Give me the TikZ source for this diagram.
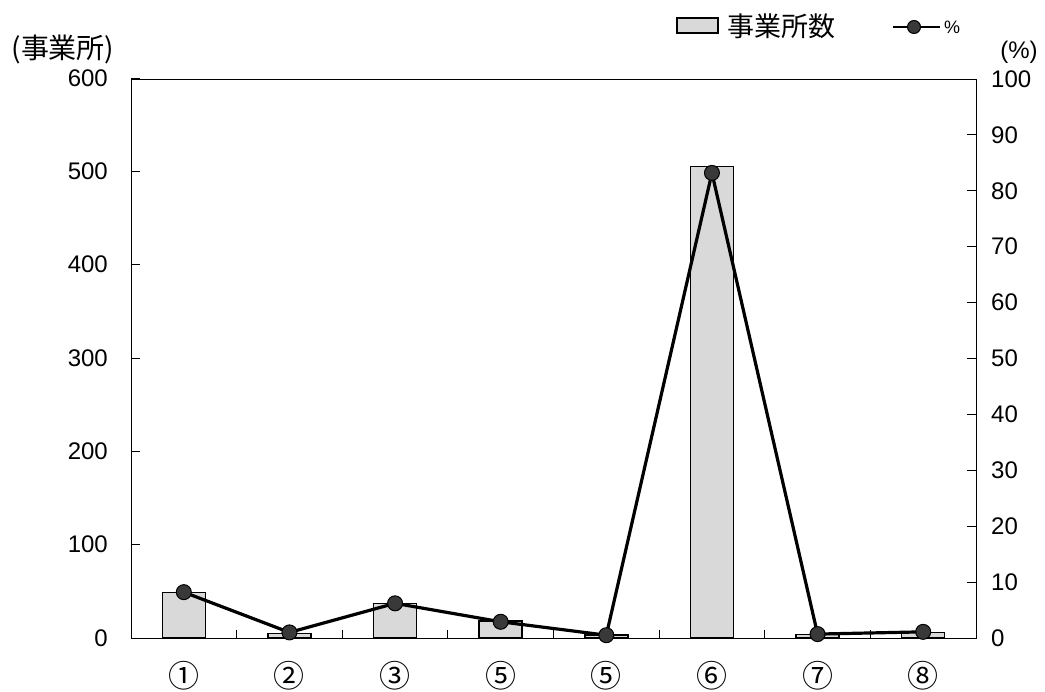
\documentclass[tikz,border=0pt]{standalone}
\usepackage{fontspec}
\setmainfont{Liberation Sans}
\newfontfamily\jpfont{Noto Sans CJK JP}
\usepackage{tikz}

\begin{document}
\begin{tikzpicture}[x=1pt,y=1pt,
  bar/.style={draw=black,line width=1.5pt,fill=gray!30},
  dot/.style={circle,draw=black,line width=1pt,fill=gray!45!black,inner sep=0pt,minimum size=15pt},
  num/.style={font=\fontsize{24}{24}\selectfont,inner sep=0pt},
  jp/.style={font=\jpfont\fontsize{28}{28}\selectfont,inner sep=0pt},
  cat/.style={font=\jpfont\fontsize{31}{31}\selectfont,inner sep=0pt}]
\useasboundingbox (0,0) rectangle (1045,-692);
% axes
\draw [black,line width=0.9pt] (131,-79) rectangle (976,-638);
\foreach \v in {0,100,...,600} {
  \draw [black,line width=0.9pt] (131,{-638+\v*0.9333}) -- ++(9,0);
  \node [num,anchor=east] at (108,{-638+\v*0.9333}) {\v};
}
\foreach \v in {0,10,...,100} {
  \draw [black,line width=0.9pt] (976,{-638+\v*5.59}) -- ++(-9,0);
  \node [num,anchor=west] at (991,{-638+\v*5.59}) {\v};
}
\foreach \i in {1,...,7}
  \draw [black,line width=0.9pt] ({131+105.625*\i},-638) -- ++(0,8);
\node [jp] (ylab) at (63,-49) {(事業所)};
\node [num] (ylabr) at (1019,-52) {(\%)};
% bars
\foreach \i/\n in {1/49,2/5,3/37,4/18,5/3,6/505,7/4,8/6}
  \draw [bar] ({131+105.625*(\i-0.5)-21.5},-638) rectangle ++(43,{\n*0.9333});
% categories
\foreach \i/\t in {1/①,2/②,3/③,4/⑤,5/⑤,6/⑥,7/⑦,8/⑧}
  \node [cat] (c\i) at ({131+105.625*(\i-0.5)},-676) {\t};
% percent line
\foreach \i/\p in {1/8.2,2/1.0,3/6.2,4/2.9,5/0.5,6/83.2,7/0.7,8/1.1}
  \coordinate (p\i) at ({131+105.625*(\i-0.5)},{-638+\p*5.59});
\draw [black,line width=3.2pt,line join=round] (p1) -- (p2) -- (p3) -- (p4) -- (p5) -- (p6) -- (p7) -- (p8);
\foreach \i in {1,...,8}
  \node [dot] at (p\i) {};
% legend
\node [draw=black,line width=1.5pt,fill=gray!30,inner sep=0pt,minimum width=41pt,minimum height=15pt] (legbox) at (697.5,-25.5) {};
\node [jp,font=\jpfont\fontsize{27}{27}\selectfont,anchor=west] (legbar) at (727,-26) {事業所数};
\coordinate (la) at (893,-27);
\coordinate (lm) at (914,-27);
\coordinate (lb) at (940,-27);
\draw [black,line width=2.4pt] (la) -- (lb);
\node [dot,minimum size=13pt] at (lm) {};
\node [font=\fontsize{18}{18}\selectfont,inner sep=0pt,anchor=west] (legpct) at (944,-27) {\%};
\end{tikzpicture}
\end{document}
